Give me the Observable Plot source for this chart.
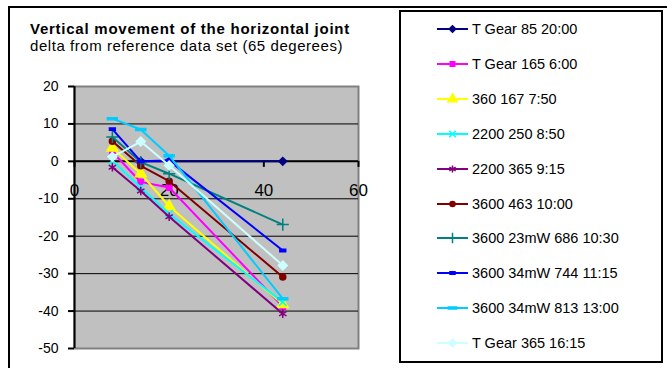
<!DOCTYPE html>
<html><head><meta charset="utf-8">
<script src="https://cdn.jsdelivr.net/npm/d3@7"></script>
<script src="https://cdn.jsdelivr.net/npm/@observablehq/plot@0.6"></script>
<style>
body{margin:0;background:#fff;font-family:"Liberation Sans",Arial,sans-serif;}
#wrap{position:relative;width:667px;height:368px;overflow:hidden;background:#fff;}
#frame{position:absolute;left:8px;top:6px;width:700px;height:400px;border:2px solid #000;box-sizing:border-box;}
#chart{position:absolute;left:0;top:0;}
#title{position:absolute;left:30px;top:20px;font-weight:bold;font-size:15px;letter-spacing:0.75px;line-height:17px;color:#000;white-space:nowrap;}
#subtitle{position:absolute;left:30px;top:37px;font-size:15px;letter-spacing:0.55px;line-height:17px;color:#000;white-space:nowrap;}
#legend{position:absolute;left:399px;top:10px;width:264px;height:353px;border:2px solid #000;box-sizing:border-box;background:#fff;}
.item{position:absolute;left:36px;height:20px;display:flex;align-items:center;font-size:14.5px;color:#000;white-space:nowrap;}
.item svg{margin-right:4px;}
</style></head>
<body><div id="wrap">
<div id="frame"></div>
<div id="chart"></div>
<div id="title">Vertical movement of the horizontal joint</div>
<div id="subtitle">delta from reference data set (65 degerees)</div>
<div id="legend"></div>
</div>
<script>
const xValues = [8, 14, 20, 44];
const seriesNames = ["T Gear 85 20:00","T Gear 165 6:00","360 167 7:50","2200 250 8:50","2200 365 9:15","3600 463 10:00","3600 23mW 686 10:30","3600 34mW 744 11:15","3600 34mW 813 13:00","T Gear 365 16:15"];
const seriesColors = ["#000080","#FF00FF","#FFFF00","#00FFFF","#800080","#800000","#008080","#0000FF","#00CCFF","#CCFFFF"];
const tGear85_2000 = [null, 0, 0, 0];
const tGear165_0600 = [2.5, -5.5, -7, -38.8];
const s360_167_0750 = [3.6, -3.3, -12, -38.2];
const s2200_250_0850 = [0.2, -7, -14, -37.6];
const s2200_365_0915 = [-1.6, -7.9, -14.8, -40.7];
const s3600_463_1000 = [5.4, -1.2, -5.3, -30.9];
const s3600_23mW_686_1030 = [6.5, -0.2, -3.3, -16.9];
const s3600_34mW_744_1115 = [8.6, 0, 0.2, -23.8];
const s3600_34mW_813_1300 = [11.4, 8.5, 1.5, -36.7];
const tGear365_1615 = [1.2, 5.3, -1.1, -27.8];
const seriesValues = [tGear85_2000, tGear165_0600, s360_167_0750, s2200_250_0850, s2200_365_0915, s3600_463_1000, s3600_23mW_686_1030, s3600_34mW_744_1115, s3600_34mW_813_1300, tGear365_1615];
const yTicks = [20, 10, 0, -10, -20, -30, -40, -50];
const gridValues = [10, 0, -10, -20, -30, -40];
const xTicks = [0, 20, 40, 60];

const shortDash = {draw(ctx, size){ const w = Math.sqrt(size)*0.55; ctx.moveTo(-w,-1.2); ctx.lineTo(w,-1.2); ctx.lineTo(w,1.2); ctx.lineTo(-w,1.2); ctx.closePath(); }};
const longDash = {draw(ctx, size){ const w = Math.sqrt(size)*0.8; ctx.moveTo(-w,-1); ctx.lineTo(w,-1); ctx.lineTo(w,1); ctx.lineTo(-w,1); ctx.closePath(); }};
const seriesSymbols = [d3.symbolDiamond2, d3.symbolSquare, d3.symbolTriangle, d3.symbolTimes, d3.symbolAsterisk, d3.symbolCircle, d3.symbolPlus, shortDash, longDash, d3.symbolDiamond2];
const symbolRadius = [3.5, 3, 4, 3.5, 4, 3, 4, 3, 3.5, 4];

const table = [];
seriesNames.forEach((name, i) => {
  seriesValues[i].forEach((v, j) => { if (v != null) table.push({series: name, idx: i, x: xValues[j], y: v}); });
});

const seriesMarks = [];
seriesNames.forEach((name, i) => {
  const d = table.filter(r => r.idx === i);
  seriesMarks.push(Plot.line(d, {x: "x", y: "y", stroke: seriesColors[i], strokeWidth: 2}));
  seriesMarks.push(Plot.dot(d, {x: "x", y: "y", symbol: seriesSymbols[i], r: symbolRadius[i], fill: seriesColors[i], stroke: seriesColors[i], strokeWidth: 1.5}));
});

const chart = Plot.plot({
  width: 667, height: 368,
  marginLeft: 74, marginRight: 309, marginTop: 86, marginBottom: 20,
  x: {domain: [0, 60], axis: null},
  y: {domain: [-50, 20], axis: null},
  style: {fontFamily: "'Liberation Sans', Arial, sans-serif", background: "transparent", color: "#000", overflow: "visible"},
  marks: [
    Plot.frame({fill: "#C0C0C0", stroke: "#808080", strokeWidth: 2}),
    Plot.ruleY(gridValues, {stroke: "#000", strokeWidth: 1}),
    Plot.axisY(yTicks, {tickSize: 6, tickPadding: 10, fontSize: 14, label: null, tickFormat: d => String(d), stroke: "#000", strokeWidth: 2, fill: "#000"}),
    Plot.ruleX([0], {stroke: "#000", strokeWidth: 2}),
    Plot.ruleY([0], {stroke: "#000", strokeWidth: 2}),
    Plot.ruleX(xTicks, {y1: 0, y2: 0, insetBottom: -6, stroke: "#000", strokeWidth: 2}),
    Plot.text(xTicks, {x: d => d, y: 0, dy: 29, fontSize: 17, text: d => String(d), fill: "#000"}),
    ...seriesMarks
  ]
});
document.getElementById("chart").appendChild(chart);

const legend = d3.select("#legend");
seriesNames.forEach((name, i) => {
  const item = legend.append("div").attr("class", "item").style("top", (7 + i * 34.9) + "px");
  const svg = item.append("svg").attr("width", 31).attr("height", 14);
  svg.append("line").attr("x1", 0).attr("x2", 31).attr("y1", 7).attr("y2", 7).attr("stroke", seriesColors[i]).attr("stroke-width", 2);
  const r = symbolRadius[i] * 0.85;
  svg.append("path").attr("transform", "translate(15.5,7)")
    .attr("d", d3.symbol(seriesSymbols[i], r * r * Math.PI)())
    .attr("fill", seriesColors[i]).attr("stroke", seriesColors[i]).attr("stroke-width", 1.5);
  item.append("span").text(name);
});
</script>
</body></html>
